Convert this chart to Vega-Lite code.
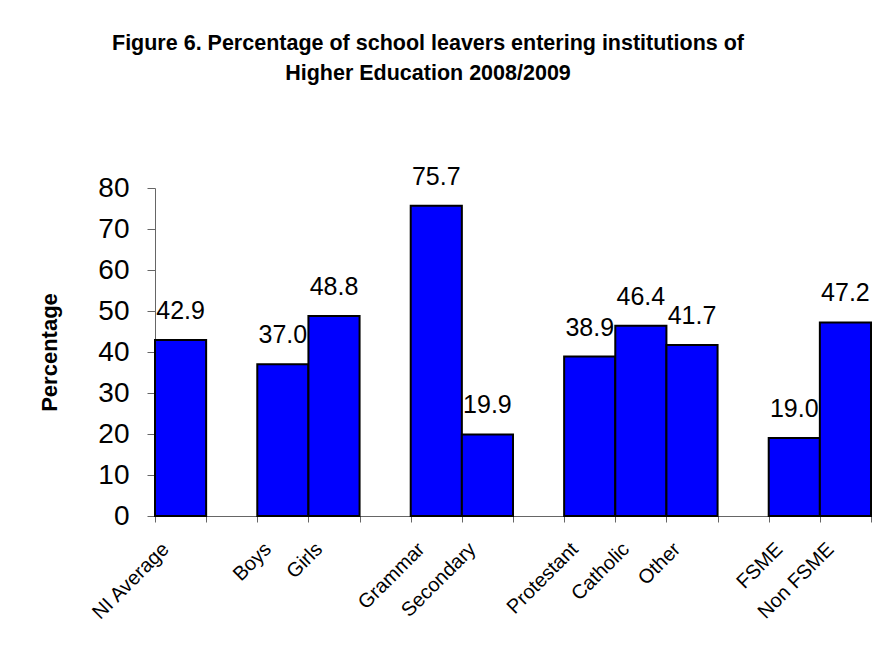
{
  "$schema": "https://vega.github.io/schema/vega-lite/v6.json",
  "autosize": {"type": "none"},
  "width": 716,
  "height": 328,
  "padding": {"left": 155, "top": 188, "right": 4, "bottom": 136},
  "background": "white",
  "title": {
    "text": ["Figure 6. Percentage of school leavers entering institutions of", "Higher Education 2008/2009"],
    "font": "Liberation Sans",
    "fontSize": 21.5,
    "fontWeight": "bold",
    "color": "black",
    "anchor": "middle",
    "dx": -85,
    "offset": 80,
    "lineHeight": 30
  },
  "data": {
    "values": [
      {"group": "NI Average", "value": 42.9},
      {"group": "Boys", "value": 37.0},
      {"group": "Girls", "value": 48.8},
      {"group": "Grammar", "value": 75.7},
      {"group": "Secondary", "value": 19.9},
      {"group": "Protestant", "value": 38.9},
      {"group": "Catholic", "value": 46.4},
      {"group": "Other", "value": 41.7},
      {"group": "FSME", "value": 19.0},
      {"group": "Non FSME", "value": 47.2}
    ]
  },
  "encoding": {
    "x": {
      "field": "group",
      "type": "nominal",
      "scale": {
        "domain": ["NI Average", "_1", "Boys", "Girls", "_2", "Grammar", "Secondary", "_3", "Protestant", "Catholic", "Other", "_4", "FSME", "Non FSME"],
        "paddingInner": 0,
        "paddingOuter": 0
      },
      "axis": {
        "title": null,
        "labelAngle": -45,
        "labelAlign": "right",
        "labelBaseline": "alphabetic",
        "labelOffset": -11,
        "labelPadding": 28,
        "labelOverlap": false,
        "labelBound": false,
        "tickBand": "extent",
        "tickSize": 6,
        "tickColor": "#666666",
        "domainColor": "#666666",
        "labelFont": "Liberation Sans",
        "labelFontSize": 20,
        "labelColor": "black",
        "labelExpr": "indexof(datum.label, '_') == 0 ? '' : datum.label"
      }
    },
    "y": {
      "field": "value",
      "type": "quantitative",
      "scale": {"domain": [0, 80], "nice": false},
      "axis": {
        "title": "Percentage",
        "titleFont": "Liberation Sans",
        "titleFontSize": 22,
        "titleFontWeight": "bold",
        "titleColor": "black",
        "titlePadding": 36,
        "values": [0, 10, 20, 30, 40, 50, 60, 70, 80],
        "grid": false,
        "labelFont": "Liberation Sans",
        "labelFontSize": 28,
        "labelColor": "black",
        "labelPadding": 18,
        "tickSize": 8,
        "tickColor": "#666666",
        "domainColor": "#666666"
      }
    }
  },
  "layer": [
    {"mark": {"type": "bar", "fill": "#0000FF", "stroke": "black", "strokeWidth": 2}},
    {
      "mark": {"type": "text", "dy": -21, "baseline": "alphabetic", "fontSize": 25, "font": "Liberation Sans", "color": "black"},
      "encoding": {"text": {"field": "value", "type": "quantitative", "format": ".1f"}}
    }
  ],
  "config": {"view": {"stroke": null}}
}
